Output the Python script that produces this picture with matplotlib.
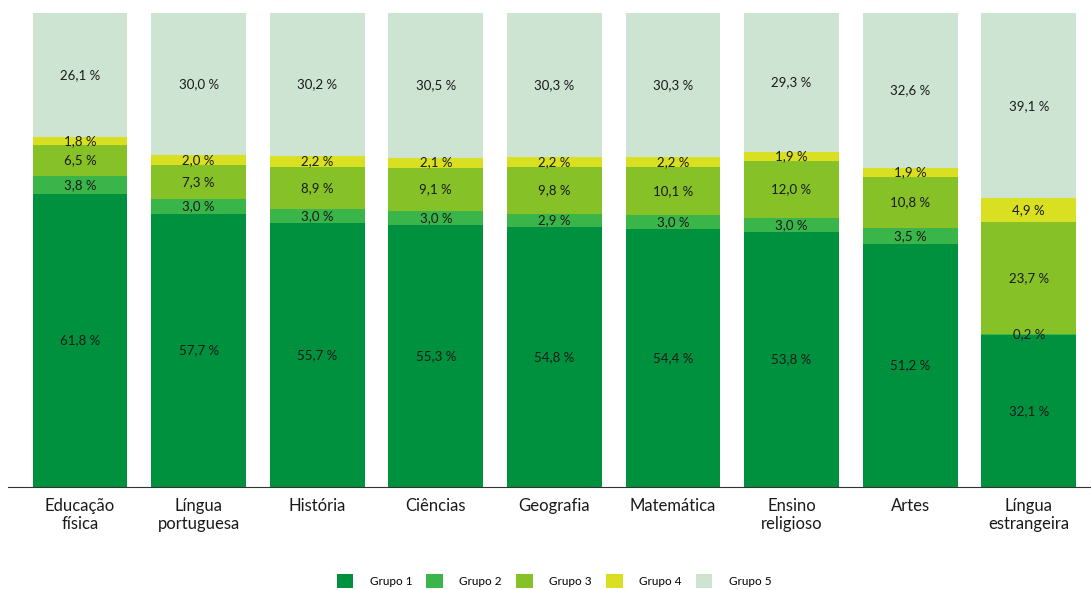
import numpy as np
import matplotlib
matplotlib.use("Agg")
import matplotlib.pyplot as plt

plt.rcParams['font.family'] = ['Lato', 'DejaVu Sans']

# Disciplines and share of each group (%)
subjects = ['Educação\nfísica', 'Língua\nportuguesa', 'História', 'Ciências', 'Geografia',
            'Matemática', 'Ensino\nreligioso', 'Artes', 'Língua\nestrangeira']
grupo1 = [61.8, 57.7, 55.7, 55.3, 54.8, 54.4, 53.8, 51.2, 32.1]
grupo2 = [3.8, 3.0, 3.0, 3.0, 2.9, 3.0, 3.0, 3.5, 0.2]
grupo3 = [6.5, 7.3, 8.9, 9.1, 9.8, 10.1, 12.0, 10.8, 23.7]
grupo4 = [1.8, 2.0, 2.2, 2.1, 2.2, 2.2, 1.9, 1.9, 4.9]
grupo5 = [26.1, 30.0, 30.2, 30.5, 30.3, 30.3, 29.3, 32.6, 39.1]

series = [grupo1, grupo2, grupo3, grupo4, grupo5]
names = ['Grupo 1', 'Grupo 2', 'Grupo 3', 'Grupo 4', 'Grupo 5']
colors = ['#00913F', '#39B54A', '#86C127', '#D9E021', '#CDE4D2']

fig = plt.figure(figsize=(10.91, 5.90), dpi=100)
ax = fig.add_axes([8 / 1091, 1 - 487 / 590, 1 - 8 / 1091, 474 / 590])

x = np.arange(len(subjects))
bottom = np.zeros(len(subjects))
for vals, name, col in zip(series, names, colors):
    vals = np.array(vals)
    ax.bar(x, vals, 0.8, bottom=bottom, color=col, label=name)
    for xi, b, v in zip(x, bottom, vals):
        ax.text(xi, b + v / 2, f'{v:.1f} %'.replace('.', ','), ha='center', va='center',
                fontsize=9.5, color='#1a1a1a')
    bottom += vals

ax.set_xlim(-0.607, 8.525)
ax.set_ylim(0, 100)
ax.set_xticks(x)
ax.set_xticklabels(subjects, fontsize=12, color='#1a1a1a', linespacing=1.15)
ax.tick_params(axis='x', length=0, pad=8)
ax.set_yticks([])
for s in ['top', 'right', 'left']:
    ax.spines[s].set_visible(False)
ax.spines['bottom'].set_color('#333333')

fig.legend(loc='center', bbox_to_anchor=(554 / 1091, 1 - 581 / 590), ncol=5, frameon=False,
           fontsize=8.5, handlelength=1.4, handleheight=1.4, columnspacing=1.2, handletextpad=1.4)

fig.savefig('out.png', dpi=100)
